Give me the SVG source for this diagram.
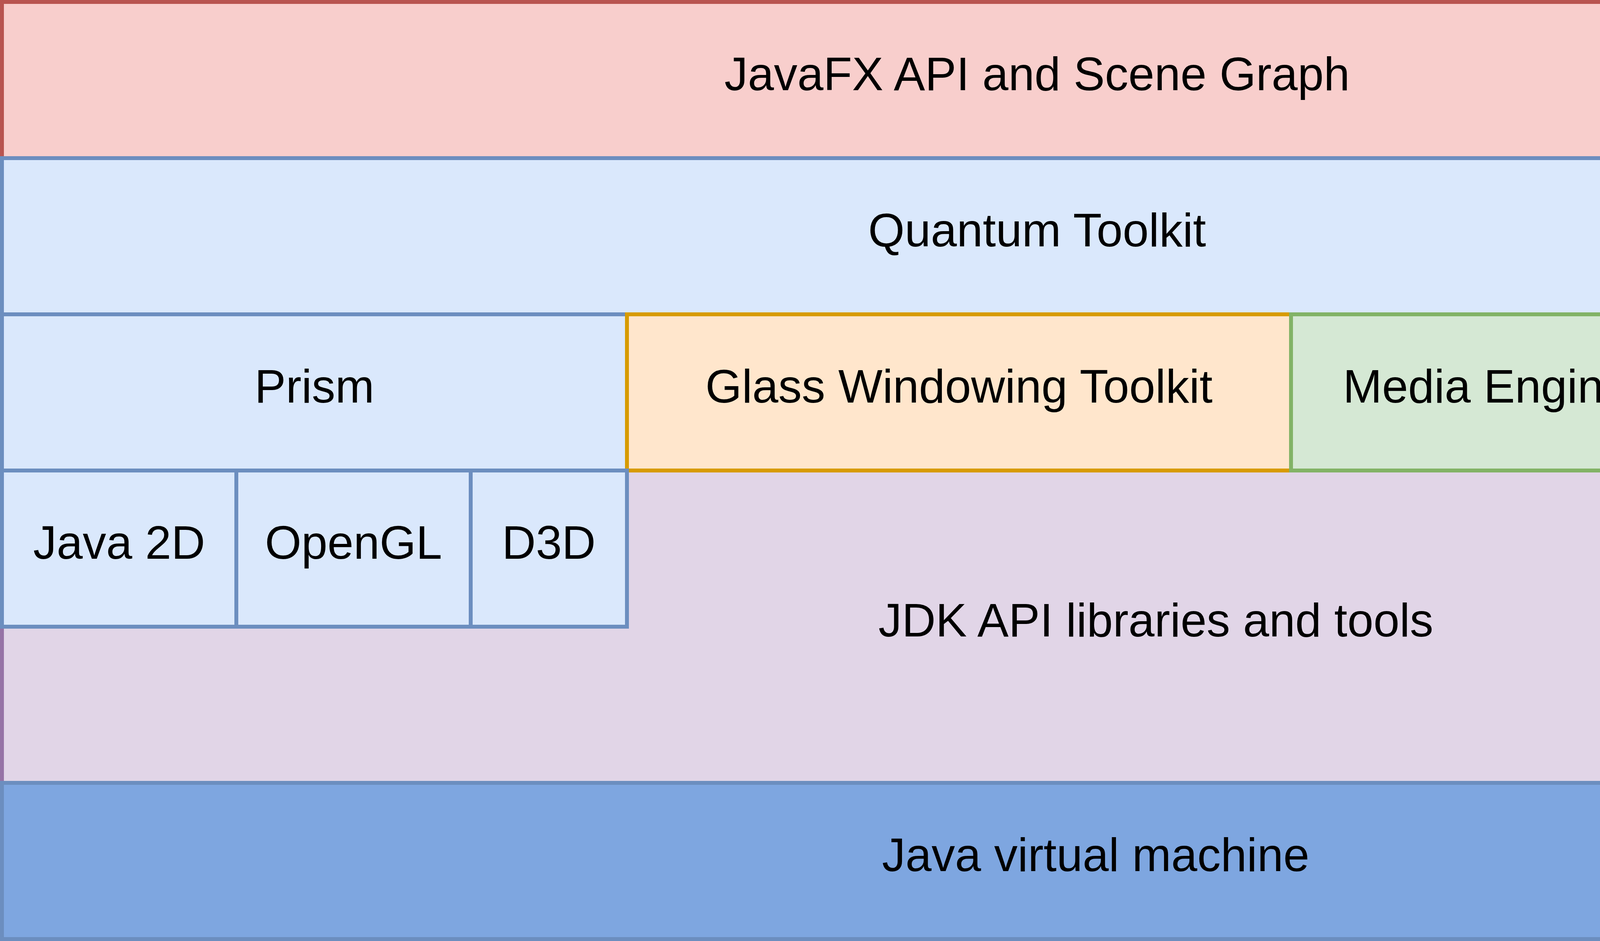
<svg xmlns="http://www.w3.org/2000/svg" width="5610" height="2410" viewBox="0 0 5610 2410">
<style>
rect{stroke-width:10}
text{font-family:"Liberation Sans",Arial,Helvetica,sans-serif;font-size:120px;fill:#000;text-anchor:middle}
.purple{fill:#e1d5e7;stroke:#9673a6}
.red{fill:#f8cecc;stroke:#b85450}
.blue{fill:#dae8fc;stroke:#6c8ebf}
.orange{fill:#ffe6cc;stroke:#d79b00}
.green{fill:#d5e8d4;stroke:#82b366}
.yellow{fill:#fff2cc;stroke:#d6b656}
.jvm{fill:#7ea6e0;stroke:#6c8ebf}
</style>
<g id="jdk"><rect class="purple" x="5" y="5" width="5600" height="2000"/><text x="2959" y="1630">JDK API libraries and tools</text></g>
<g id="javafx-api"><rect class="red" x="5" y="5" width="5300" height="400"/><text x="2655" y="231">JavaFX API and Scene Graph</text></g>
<g id="quantum"><rect class="blue" x="5" y="405" width="5300" height="400"/><text x="2655" y="631">Quantum Toolkit</text></g>
<g id="prism"><rect class="blue" x="5" y="805" width="1600" height="400"/><text x="805" y="1031">Prism</text></g>
<g id="glass"><rect class="orange" x="1605" y="805" width="1700" height="400"/><text x="2455" y="1031">Glass Windowing Toolkit</text></g>
<g id="media"><rect class="green" x="3305" y="805" width="1000" height="400"/><text x="3805" y="1031">Media Engine</text></g>
<g id="web"><rect class="yellow" x="4305" y="805" width="1000" height="400"/><text x="4805" y="1031">Web Engine</text></g>
<g id="java2d"><rect class="blue" x="5" y="1205" width="600" height="400"/><text x="305" y="1431">Java 2D</text></g>
<g id="opengl"><rect class="blue" x="605" y="1205" width="600" height="400"/><text x="905" y="1431">OpenGL</text></g>
<g id="d3d"><rect class="blue" x="1205" y="1205" width="400" height="400"/><text x="1405" y="1431">D3D</text></g>
<g id="jvm"><rect class="jvm" x="5" y="2005" width="5600" height="400"/><text x="2805" y="2231">Java virtual machine</text></g>
<g id="connectors"/>
</svg>
